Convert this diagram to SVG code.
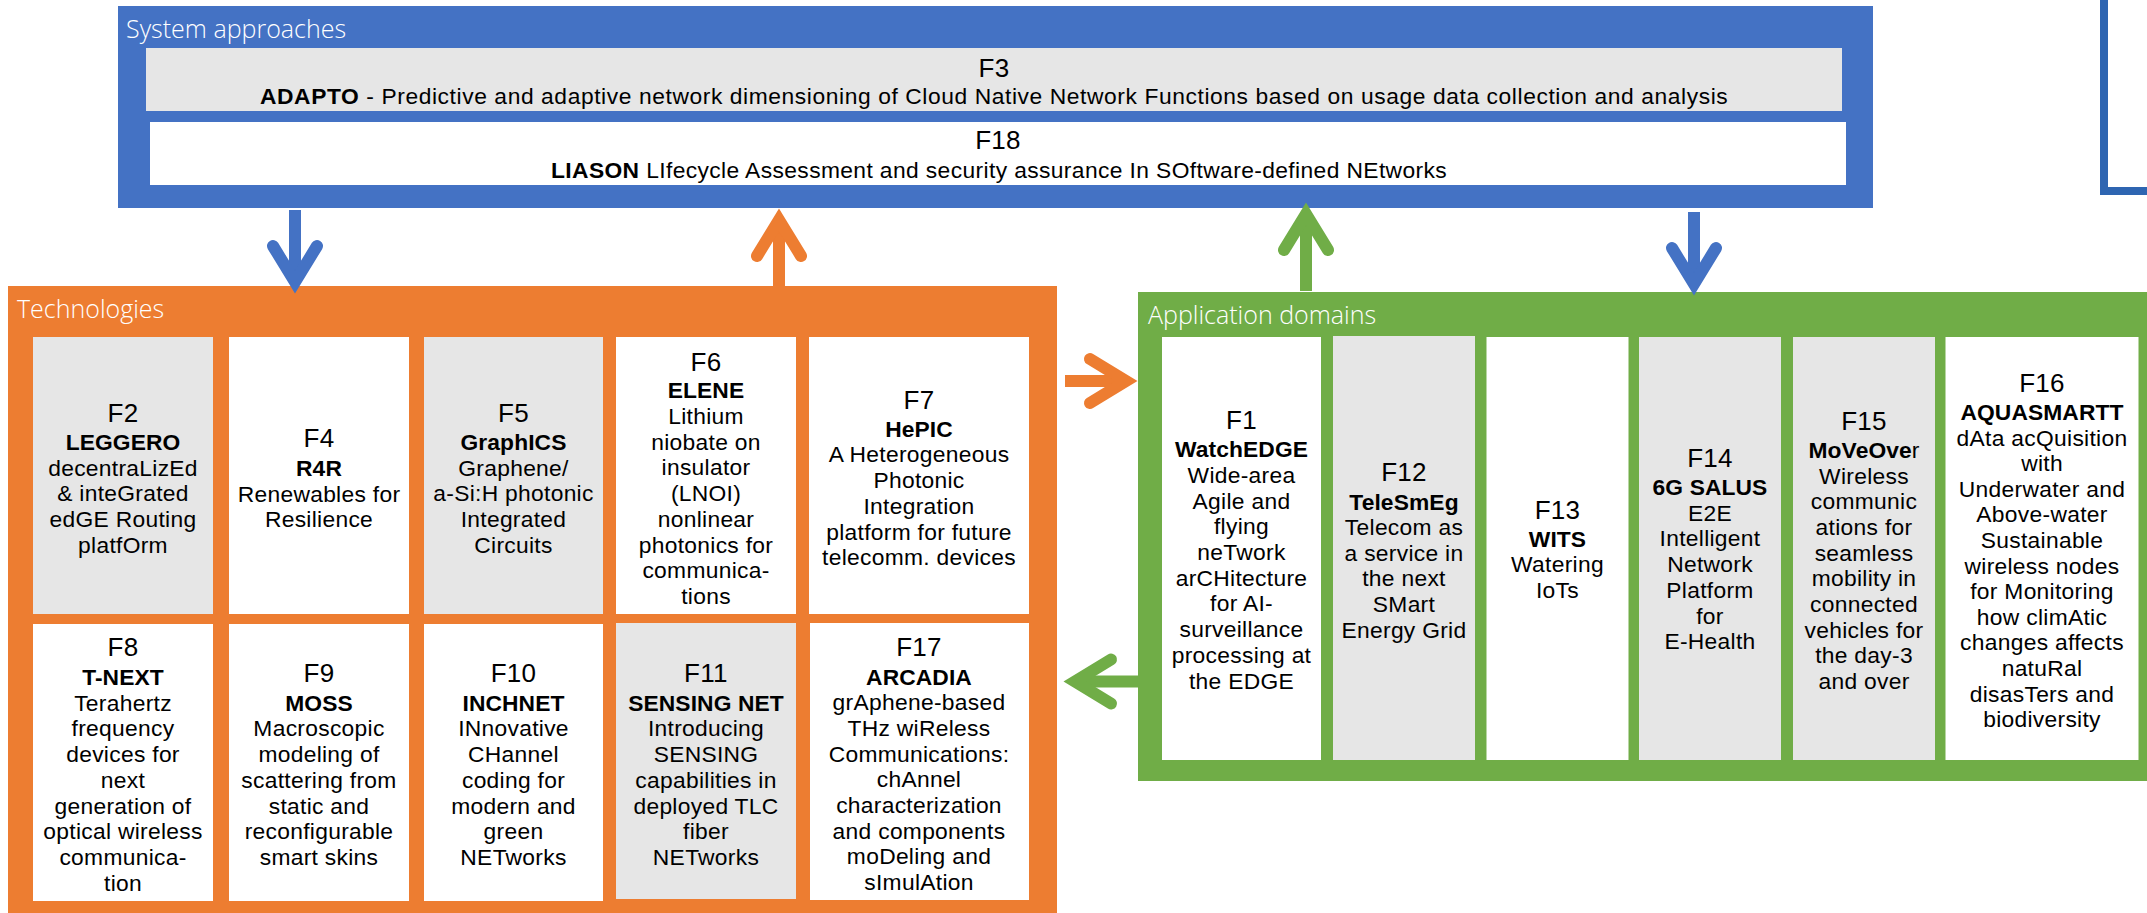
<svg xmlns="http://www.w3.org/2000/svg" width="2147" height="913" viewBox="0 0 2147 913">
<style>
text{font-family:"Liberation Sans",Arial,sans-serif;fill:#000;text-anchor:middle}
.lbl{font-family:"Open Sans","Liberation Sans",sans-serif;font-size:25px;font-weight:300;fill:#fff;text-anchor:start}
.h{font-size:26px;letter-spacing:0.3px}
.b{font-size:22.8px;letter-spacing:0.3px}
.t{font-size:22.8px;font-weight:700;letter-spacing:0.1px}
.w{fill:#fff}
.g{fill:#e6e6e6}
.arr{fill:none;stroke-width:12;stroke-linecap:round;stroke-linejoin:miter;stroke-miterlimit:10}
.stem{fill:none;stroke-width:12;stroke-linecap:butt}
</style>
<rect x="2104" y="-10" width="100" height="201" fill="none" stroke="#2e65b1" stroke-width="8"/>
<g id="system">
<rect x="118" y="6" width="1755" height="202" fill="#4472c4"/>
<text class="lbl" x="126" y="38">System approaches</text>
</g>
<g id="F3">
<rect class="g" x="146" y="48" width="1696" height="63"/>
<text class="h" x="994" y="77">F3</text>
<text class="b" x="994" y="104" textLength="1468" lengthAdjust="spacing"><tspan font-weight="700">ADAPTO</tspan> - Predictive and adaptive network dimensioning of Cloud Native Network Functions based on usage data collection and analysis</text>
</g>
<g id="F18">
<rect class="w" x="150" y="122" width="1696" height="63"/>
<text class="h" x="998" y="149">F18</text>
<text class="b" x="999" y="177.5" textLength="896" lengthAdjust="spacing"><tspan font-weight="700">LIASON</tspan> LIfecycle Assessment and security assurance In SOftware-defined NEtworks</text>
</g>
<g id="technologies">
<rect x="8" y="286" width="1049" height="627" fill="#ed7d31"/>
<text class="lbl" x="17" y="318">Technologies</text>
</g>
<g id="applications">
<rect x="1138" y="292" width="1020" height="489" fill="#70ad47"/>
<text class="lbl" x="1148" y="324">Application domains</text>
</g>
<g id="F2">
<rect class="g" x="33" y="337" width="180" height="277"/>
<text class="h" x="123" y="422">F2</text>
<text class="t" x="123" y="450">LEGGERO</text>
<text class="b" x="123"><tspan x="123" y="475.7">decentraLizEd</tspan><tspan x="123" y="501.4">&amp; inteGrated</tspan><tspan x="123" y="527.1">edGE Routing</tspan><tspan x="123" y="552.8">platfOrm</tspan></text>
</g>
<g id="F4">
<rect class="w" x="229" y="337" width="180" height="277"/>
<text class="h" x="319" y="447">F4</text>
<text class="t" x="319" y="476">R4R</text>
<text class="b" x="319"><tspan x="319" y="501.7">Renewables for</tspan><tspan x="319" y="527.4">Resilience</tspan></text>
</g>
<g id="F5">
<rect class="g" x="424" y="337" width="179" height="277"/>
<text class="h" x="513.5" y="422">F5</text>
<text class="t" x="513.5" y="450">GraphICS</text>
<text class="b" x="513.5"><tspan x="513.5" y="475.7">Graphene/</tspan><tspan x="513.5" y="501.4">a-Si:H photonic</tspan><tspan x="513.5" y="527.1">Integrated</tspan><tspan x="513.5" y="552.8">Circuits</tspan></text>
</g>
<g id="F6">
<rect class="w" x="616" y="337" width="180" height="277"/>
<text class="h" x="706" y="370.5">F6</text>
<text class="t" x="706" y="398.3">ELENE</text>
<text class="b" x="706"><tspan x="706" y="424">Lithium</tspan><tspan x="706" y="449.7">niobate on</tspan><tspan x="706" y="475.4">insulator</tspan><tspan x="706" y="501.1">(LNOI)</tspan><tspan x="706" y="526.8">nonlinear</tspan><tspan x="706" y="552.5">photonics for</tspan><tspan x="706" y="578.2">communica-</tspan><tspan x="706" y="603.9">tions</tspan></text>
</g>
<g id="F7">
<rect class="w" x="809" y="337" width="220" height="277"/>
<text class="h" x="919" y="408.5">F7</text>
<text class="t" x="919" y="436.7">HePIC</text>
<text class="b" x="919"><tspan x="919" y="462.4">A Heterogeneous</tspan><tspan x="919" y="488.1">Photonic</tspan><tspan x="919" y="513.8">Integration</tspan><tspan x="919" y="539.5">platform for future</tspan><tspan x="919" y="565.2">telecomm. devices</tspan></text>
</g>
<g id="F8">
<rect class="w" x="33" y="624" width="180" height="277"/>
<text class="h" x="123" y="656">F8</text>
<text class="t" x="123" y="685">T-NEXT</text>
<text class="b" x="123"><tspan x="123" y="710.7">Terahertz</tspan><tspan x="123" y="736.4">frequency</tspan><tspan x="123" y="762.1">devices for</tspan><tspan x="123" y="787.8">next</tspan><tspan x="123" y="813.5">generation of</tspan><tspan x="123" y="839.2">optical wireless</tspan><tspan x="123" y="864.9">communica-</tspan><tspan x="123" y="890.6">tion</tspan></text>
</g>
<g id="F9">
<rect class="w" x="229" y="624" width="180" height="277"/>
<text class="h" x="319" y="682">F9</text>
<text class="t" x="319" y="710.7">MOSS</text>
<text class="b" x="319"><tspan x="319" y="736.4">Macroscopic</tspan><tspan x="319" y="762.1">modeling of</tspan><tspan x="319" y="787.8">scattering from</tspan><tspan x="319" y="813.5">static and</tspan><tspan x="319" y="839.2">reconfigurable</tspan><tspan x="319" y="864.9">smart skins</tspan></text>
</g>
<g id="F10">
<rect class="w" x="424" y="624" width="179" height="277"/>
<text class="h" x="513.5" y="682">F10</text>
<text class="t" x="513.5" y="710.7">INCHNET</text>
<text class="b" x="513.5"><tspan x="513.5" y="736.4">INnovative</tspan><tspan x="513.5" y="762.1">CHannel</tspan><tspan x="513.5" y="787.8">coding for</tspan><tspan x="513.5" y="813.5">modern and</tspan><tspan x="513.5" y="839.2">green</tspan><tspan x="513.5" y="864.9">NETworks</tspan></text>
</g>
<g id="F11">
<rect class="g" x="616" y="623" width="180" height="276"/>
<text class="h" x="706" y="682">F11</text>
<text class="t" x="706" y="710.7">SENSING NET</text>
<text class="b" x="706"><tspan x="706" y="736.4">Introducing</tspan><tspan x="706" y="762.1">SENSING</tspan><tspan x="706" y="787.8">capabilities in</tspan><tspan x="706" y="813.5">deployed TLC</tspan><tspan x="706" y="839.2">fiber</tspan><tspan x="706" y="864.9">NETworks</tspan></text>
</g>
<g id="F17">
<rect class="w" x="810" y="623" width="219" height="277"/>
<text class="h" x="919" y="655.5">F17</text>
<text class="t" x="919" y="684.5">ARCADIA</text>
<text class="b" x="919"><tspan x="919" y="710.2">grAphene-based</tspan><tspan x="919" y="735.9">THz wiReless</tspan><tspan x="919" y="761.6">Communications:</tspan><tspan x="919" y="787.3">chAnnel</tspan><tspan x="919" y="813">characterization</tspan><tspan x="919" y="838.7">and components</tspan><tspan x="919" y="864.4">moDeling and</tspan><tspan x="919" y="890.1">sImulAtion</tspan></text>
</g>
<g id="F1">
<rect class="w" x="1162" y="337" width="159" height="423"/>
<text class="h" x="1241.5" y="428.5">F1</text>
<text class="t" x="1241.5" y="457.2">WatchEDGE</text>
<text class="b" x="1241.5"><tspan x="1241.5" y="482.9">Wide-area</tspan><tspan x="1241.5" y="508.6">Agile and</tspan><tspan x="1241.5" y="534.3">flying</tspan><tspan x="1241.5" y="560">neTwork</tspan><tspan x="1241.5" y="585.7">arCHitecture</tspan><tspan x="1241.5" y="611.4">for AI-</tspan><tspan x="1241.5" y="637.1">surveillance</tspan><tspan x="1241.5" y="662.8">processing at</tspan><tspan x="1241.5" y="688.5">the EDGE</tspan></text>
</g>
<g id="F12">
<rect class="g" x="1333" y="336" width="142" height="424"/>
<text class="h" x="1404" y="480.5">F12</text>
<text class="t" x="1404" y="509.5">TeleSmEg</text>
<text class="b" x="1404"><tspan x="1404" y="535.1">Telecom as</tspan><tspan x="1404" y="560.7">a service in</tspan><tspan x="1404" y="586.3">the next</tspan><tspan x="1404" y="611.9">SMart</tspan><tspan x="1404" y="637.5">Energy Grid</tspan></text>
</g>
<g id="F13">
<rect class="w" x="1486.5" y="337" width="142" height="423"/>
<text class="h" x="1557.5" y="519">F13</text>
<text class="t" x="1557.5" y="546.7">WITS</text>
<text class="b" x="1557.5"><tspan x="1557.5" y="572.4">Watering</tspan><tspan x="1557.5" y="598.1">IoTs</tspan></text>
</g>
<g id="F14">
<rect class="g" x="1639" y="337" width="142" height="423"/>
<text class="h" x="1710" y="467">F14</text>
<text class="t" x="1710" y="495">6G SALUS</text>
<text class="b" x="1710"><tspan x="1710" y="520.7">E2E</tspan><tspan x="1710" y="546.4">Intelligent</tspan><tspan x="1710" y="572.1">Network</tspan><tspan x="1710" y="597.8">Platform</tspan><tspan x="1710" y="623.5">for</tspan><tspan x="1710" y="649.2">E-Health</tspan></text>
</g>
<g id="F15">
<rect class="g" x="1793" y="337" width="142" height="423"/>
<text class="h" x="1864" y="430">F15</text>
<text class="t" x="1864" y="457.8">MoVeOve<tspan font-weight="400">r</tspan></text>
<text class="b" x="1864"><tspan x="1864" y="483.5">Wireless</tspan><tspan x="1864" y="509.2">communic</tspan><tspan x="1864" y="534.9">ations for</tspan><tspan x="1864" y="560.6">seamless</tspan><tspan x="1864" y="586.3">mobility in</tspan><tspan x="1864" y="612">connected</tspan><tspan x="1864" y="637.7">vehicles for</tspan><tspan x="1864" y="663.4">the day-3</tspan><tspan x="1864" y="689.1">and over</tspan></text>
</g>
<g id="F16">
<rect class="w" x="1945.5" y="337" width="193" height="423"/>
<text class="h" x="2042" y="392">F16</text>
<text class="t" x="2042" y="420">AQUASMARTT</text>
<text class="b" x="2042"><tspan x="2042" y="445.6">dAta acQuisition</tspan><tspan x="2042" y="471.2">with</tspan><tspan x="2042" y="496.8">Underwater and</tspan><tspan x="2042" y="522.4">Above-water</tspan><tspan x="2042" y="548">Sustainable</tspan><tspan x="2042" y="573.6">wireless nodes</tspan><tspan x="2042" y="599.2">for Monitoring</tspan><tspan x="2042" y="624.8">how climAtic</tspan><tspan x="2042" y="650.4">changes affects</tspan><tspan x="2042" y="676">natuRal</tspan><tspan x="2042" y="701.6">disasTers and</tspan><tspan x="2042" y="727.2">biodiversity</tspan></text>
</g>
<g id="connectors">
<g stroke="#4472c4">
<path class="stem" d="M295,210 V283"/>
<path class="arr" d="M273,246 L295,282 L317,246"/>
<path class="stem" d="M1694,212 V285"/>
<path class="arr" d="M1672,248 L1694,284 L1716,248"/>
</g>
<g stroke="#ed7d31">
<path class="stem" d="M779,286 V219"/>
<path class="arr" d="M757,256 L779,220 L801,256"/>
<path class="stem" d="M1065,381 H1127"/>
<path class="arr" d="M1090,359 L1126,381 L1090,403"/>
</g>
<g stroke="#70ad47">
<path class="stem" d="M1306,291 V213"/>
<path class="arr" d="M1284,250 L1306,214 L1328,250"/>
<path class="stem" d="M1139,681.5 H1074"/>
<path class="arr" d="M1111,659.5 L1075,681.5 L1111,703.5"/>
</g>
</g>
</svg>
